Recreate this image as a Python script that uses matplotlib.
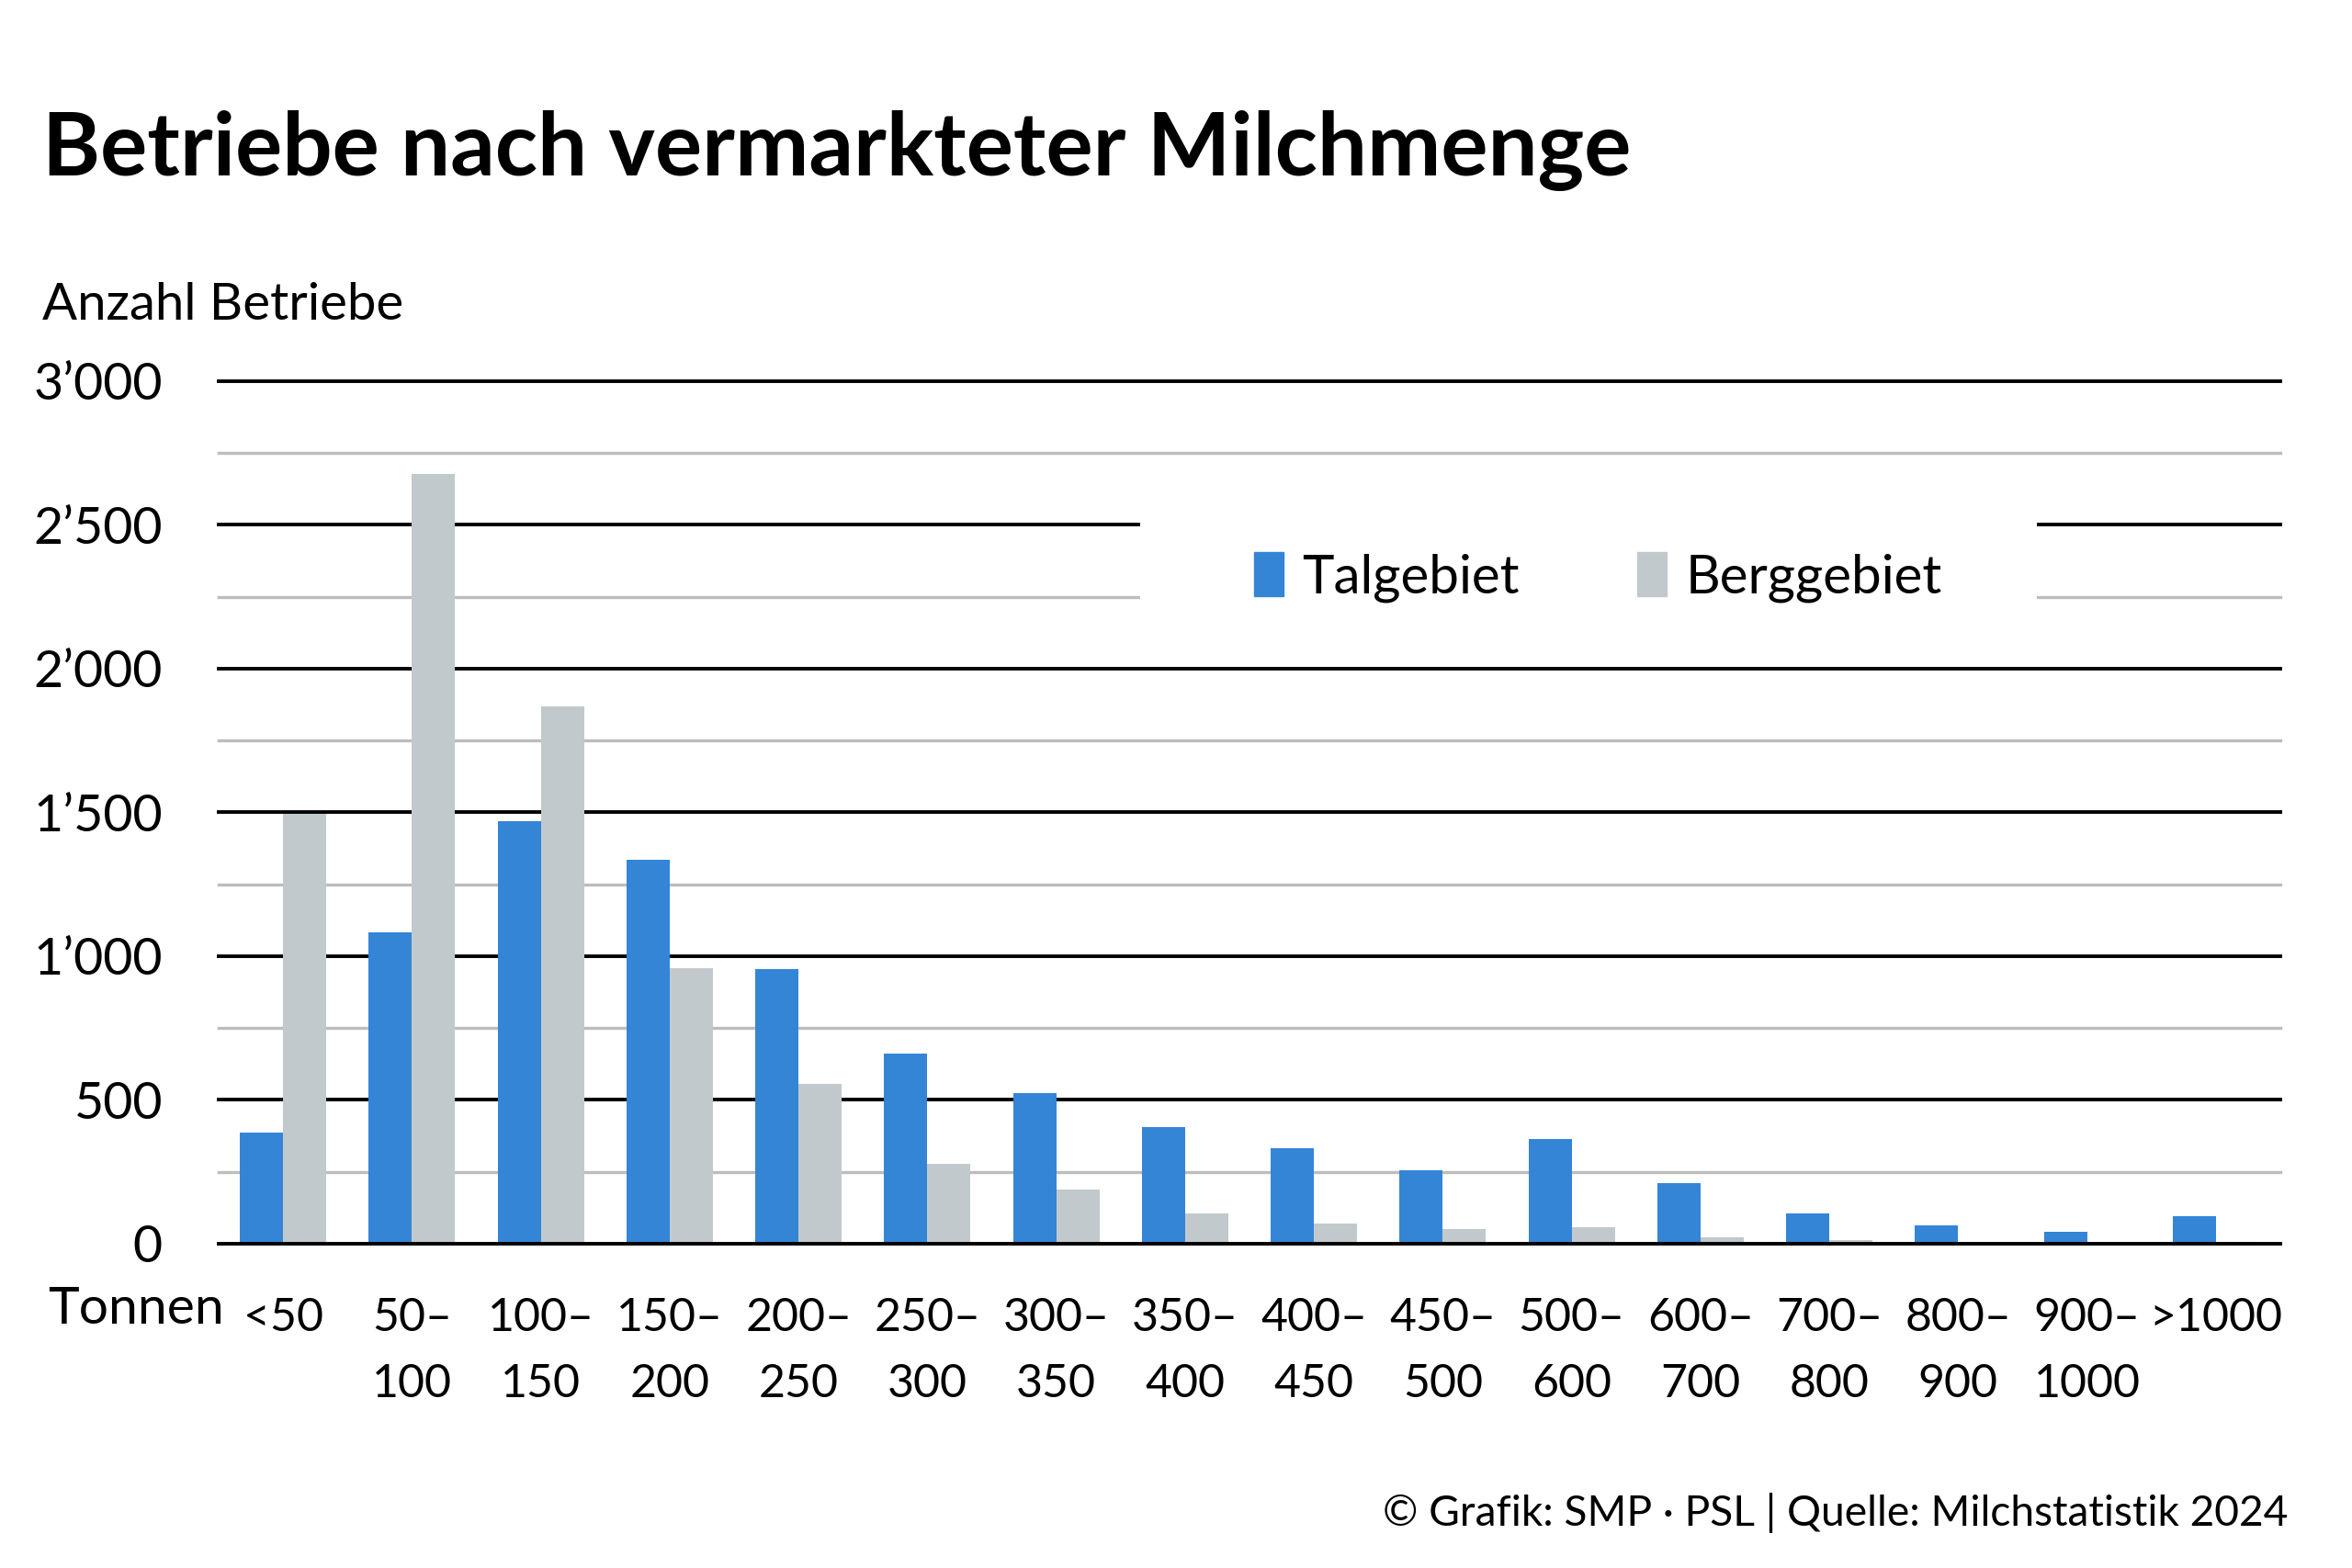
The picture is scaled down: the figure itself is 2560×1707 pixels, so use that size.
import matplotlib
matplotlib.use("Agg")
import matplotlib.pyplot as plt
from matplotlib.patches import Patch, Rectangle

plt.rcParams['font.family'] = ['Lato', 'DejaVu Sans']

# data (number of farms per class of marketed milk)
categories = ["<50", "50–\n100", "100–\n150", "150–\n200", "200–\n250", "250–\n300",
              "300–\n350", "350–\n400", "400–\n450", "450–\n500", "500–\n600",
              "600–\n700", "700–\n800", "800–\n900", "900–\n1000", ">1000"]
talgebiet = [388, 1084, 1470, 1334, 954, 660, 525, 406, 333, 254, 364, 210, 105, 64, 41, 97]
berggebiet = [1494, 2678, 1870, 960, 556, 278, 189, 104, 69, 50, 58, 23, 12, 3, 2, 5]
major_ticks = [0, 500, 1000, 1500, 2000, 2500, 3000]
minor_ticks = [250, 750, 1250, 1750, 2250, 2750]

TAL = "#3485D6"
BERG = "#C2C9CC"

fig = plt.figure(figsize=(25.6, 17.07), dpi=100)
ax = fig.add_axes([0.093, 0.2068, 0.8765, 0.5501])

x = list(range(len(categories)))
w = 0.335
ax.bar([i - w / 2 for i in x], talgebiet, width=w, color=TAL, zorder=2)
ax.bar([i + w / 2 for i in x], berggebiet, width=w, color=BERG, zorder=2)

ax.set_xlim(-0.5, len(categories) - 0.5)
ax.set_ylim(0, 3000)

ax.set_yticks(major_ticks)
ax.set_yticklabels([f"{v:,}".replace(",", "’") for v in major_ticks])
ax.set_xticks(x)
ax.set_xticklabels(categories, linespacing=1.7)

for v in minor_ticks:
    ax.axhline(v, color="#BDBDBD", lw=2.4, zorder=1, clip_on=False)
for v in major_ticks:
    ax.axhline(v, color="black", lw=2.8, zorder=1 if v else 3, clip_on=False)

for s in ax.spines.values():
    s.set_visible(False)
ax.tick_params(axis="both", which="both", length=0)
ax.tick_params(axis="y", labelsize=40, pad=44)
ax.tick_params(axis="x", labelsize=36, pad=42)

fig.text(0.018, 0.888, "Betriebe nach vermarkteter Milchmenge",
         fontsize=69, fontweight="bold", va="baseline", ha="left")
fig.text(0.018, 0.805, "Anzahl Betriebe", fontsize=40.5, va="center", ha="left")
fig.text(0.0205, 0.165, "Tonnen", fontsize=41, va="center", ha="left")
fig.text(0.973, 0.027, "© Grafik: SMP · PSL | Quelle: Milchstatistik 2024",
         fontsize=33.2, va="baseline", ha="right")

# white box behind the legend, hiding the grid lines there
fig.patches.append(Rectangle((0.4847, 0.594), 0.3814, 0.102, transform=fig.transFigure,
                             facecolor="white", edgecolor="none", zorder=5))

handles = [Patch(color=TAL, label="Talgebiet"), Patch(color=BERG, label="Berggebiet")]
leg = fig.legend(handles=handles, loc="center", bbox_to_anchor=(0.6795, 0.632),
                 ncol=2, fontsize=42, frameon=False, handlelength=0.55, handleheight=0.9,
                 handletextpad=0.35, columnspacing=2.2, borderaxespad=0)
leg.set_zorder(10)

fig.savefig("out.png", dpi=100)
